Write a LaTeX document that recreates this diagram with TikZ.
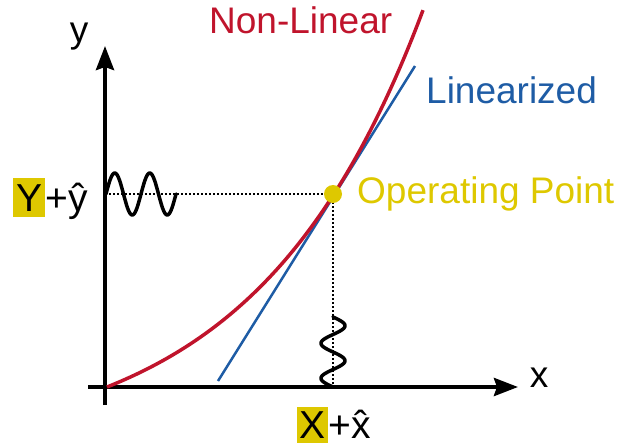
\documentclass[tikz,border=0pt]{standalone}
\usepackage{fontspec}
\setmainfont{Liberation Sans}
\usetikzlibrary{arrows.meta,calc}
\definecolor{nlred}{RGB}{192,20,44}
\definecolor{linblue}{RGB}{30,92,165}
\definecolor{opyel}{RGB}{222,200,0}
\newcommand{\myxhat}{\setbox0=\hbox{x}\rlap{x}\hbox to\wd0{\hss ˆ\hss}}
\begin{document}
\begin{tikzpicture}[x=1pt,y=-1pt,
  axis/.style={line width=4pt, -{Stealth[length=24pt,width=18pt,inset=3pt]}},
  wave/.style={line width=3.5pt, line join=round, line cap=round},
  guide/.style={line width=2pt, dash pattern=on 2pt off 2pt},
  big/.style={font=\fontsize{37}{44}\selectfont, inner sep=0pt},
  lab/.style={font=\fontsize{39}{46}\selectfont, inner sep=0pt},
  ]
\useasboundingbox (0,0) rectangle (625,445);
\coordinate (O) at (105,387);
\coordinate (ytip) at (105,46);
\coordinate (ybot) at (105,405);
\coordinate (xleft) at (88,387);
\coordinate (xtip) at (518,387);
\coordinate (opc) at (333,194);
\coordinate (opx) at (333,387);
\coordinate (opy) at (105,194);
% axes
\draw[axis] (ybot) -- (ytip);
\draw[axis] (xleft) -- (xtip);
% guides
\draw[guide] (opy) -- (opc);
\draw[guide] (opc) -- (opx);
% waves
\draw[wave] plot[domain=0:70, samples=120] ({106+\x},{194-21*sin(\x*10.2857)});
\draw[wave] plot[domain=0:70, samples=120] ({333-12*sin(\x*10.2857)},{387-\x});
% linearized
\draw[linblue, line width=2.5pt] ($(opc)+(-115,187)$) -- ($(opc)+(82,-128)$);
% non-linear
\draw[nlred, line width=3.5pt] plot[domain=0:316, samples=120] ({107+\x},{387-66*(exp(\x/166)-1)});
% operating point
\node[circle, fill=opyel, minimum size=18pt, inner sep=0pt] (op) at (opc) {};
% labels
\node[big, text=nlred, anchor=base west] (nl) at (209,33) {Non-Linear};
\node[big, text=linblue, anchor=base west] (lin) at (426,103) {Linearized};
\node[big, text=opyel, anchor=base west] (opl) at (357,203) {Operating Point};
\node[big, anchor=base] (yl) at (79,42) {y};
\node[big, anchor=base] (xl) at (539,387) {x};
\node[lab, fill=opyel, inner xsep=3pt, text height=33pt, text depth=6pt, anchor=base west] (Y) at (13,211) {Y};
\node[lab, anchor=base west] (yh) at (Y.base east) {+ŷ};
\node[lab, fill=opyel, inner xsep=2.5pt, text height=31pt, text depth=5pt, anchor=base west] (X) at (297,438) {X};
\node[lab, anchor=base west] (xh) at (X.base east) {+\myxhat};
\end{tikzpicture}
\end{document}
